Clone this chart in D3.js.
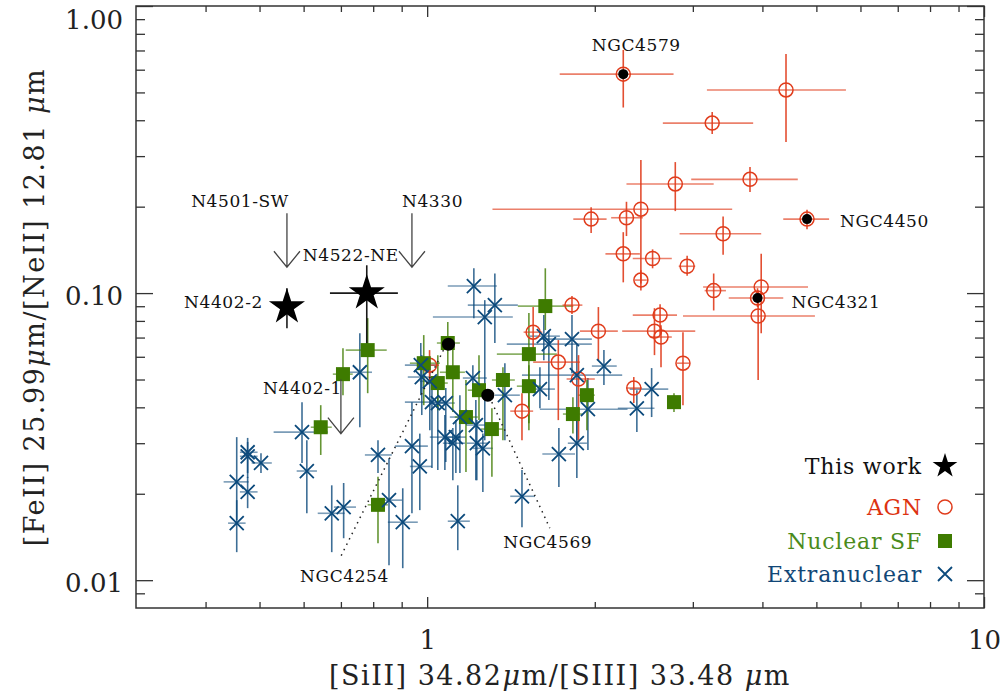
<!DOCTYPE html>
<html>
<head>
<meta charset="utf-8">
<title>[FeII]/[NeII] vs [SiII]/[SIII]</title>
<script src="https://d3js.org/d3.v7.min.js"></script>
<style>
  body { margin: 0; background: #fff; }
  svg { display: block; font-family: "DejaVu Serif", serif; }
  .lbl { font-size: 17px; fill: #111; letter-spacing: 0.6px; }
  .tick text { font-size: 26px; fill: #222; font-family: "DejaVu Serif", serif; }
  .tick line { stroke: #333; stroke-width: 1.3; }
</style>
</head>
<body>
<div id="chart"></div>
<script>

// ---------------- data (x = [SiII]/[SIII], y = [FeII]/[NeII]) ----------------
// each row: [x, y, xlo, xhi, ylo, yhi]
const agn = [
  [4.41, 0.510, 3.18, 5.65, 0.336, 0.680],
  [3.25, 0.391, 2.65, 3.85, 0.358, 0.427],
  [2.79, 0.240, 2.28, 3.27, 0.193, 0.286],
  [3.80, 0.249, 2.98, 4.63, 0.225, 0.275],
  [2.42, 0.196, 1.31, 3.53, 0.108, 0.291],
  [1.97, 0.181, 1.83, 2.10, 0.162, 0.199],
  [2.28, 0.183, 2.14, 2.44, 0.158, 0.208],
  [3.40, 0.161, 2.84, 3.98, 0.136, 0.185],
  [2.25, 0.137, 2.09, 2.41, 0.109, 0.163],
  [2.54, 0.132, 2.34, 2.75, 0.122, 0.142],
  [2.93, 0.124, 2.83, 3.03, 0.115, 0.135],
  [2.42, 0.111, 2.36, 2.48, 0.102, 0.120],
  [3.27, 0.102, 3.15, 3.44, 0.087, 0.117],
  [3.98, 0.105, 3.13, 4.83, 0.0725, 0.137],
  [3.93, 0.0832, 2.88, 4.97, 0.0498, 0.102],
  [2.62, 0.0838, 2.34, 2.81, 0.0714, 0.0915],
  [2.56, 0.0737, 2.24, 3.03, 0.0608, 0.0886],
  [2.63, 0.0703, 2.51, 2.75, 0.0552, 0.0773],
  [2.88, 0.0570, 2.81, 2.96, 0.0407, 0.0731],
  [1.82, 0.0908, 1.75, 1.90, 0.0845, 0.0976],
  [2.03, 0.0737, 1.88, 2.20, 0.0584, 0.0894],
  [1.72, 0.0575, 1.55, 1.88, 0.0361, 0.0686],
  [1.87, 0.0502, 1.78, 2.00, 0.0307, 0.0608],
  [2.35, 0.0467, 2.28, 2.43, 0.0414, 0.0510],
  [1.48, 0.0388, 1.41, 1.55, 0.0307, 0.0448],
  [1.01, 0.0561, 0.970, 1.05, 0.0498, 0.0633],
  [1.55, 0.0731, 1.49, 1.61, 0.0584, 0.0894]
];

const agnNamed = ["NGC4579", "NGC4450", "NGC4321"];
const agnNamedValues = [
  [2.25, 0.579, 1.73, 2.77, 0.443, 0.703],
  [4.81, 0.181, 4.36, 5.27, 0.167, 0.195],
  [3.92, 0.0961, 3.48, 4.36, 0.0894, 0.104]
];

const nuclearSF = [
  [1.63, 0.0901, 1.455, 1.83, 0.0743, 0.122],
  [0.782, 0.0633, 0.714, 0.846, 0.0448, 0.0818],
  [0.706, 0.0522, 0.677, 0.735, 0.0441, 0.0643],
  [0.644, 0.0341, 0.618, 0.674, 0.0273, 0.0407],
  [0.816, 0.0183, 0.782, 0.850, 0.01345, 0.0229],
  [0.986, 0.0570, 0.931, 1.054, 0.0407, 0.0714],
  [1.045, 0.0486, 1.003, 1.089, 0.0391, 0.0608],
  [1.112, 0.0530, 1.054, 1.169, 0.0385, 0.0633],
  [1.174, 0.0370, 1.121, 1.233, 0.0238, 0.0498],
  [1.239, 0.0459, 1.183, 1.296, 0.0361, 0.0608],
  [1.307, 0.0336, 1.249, 1.368, 0.0229, 0.0397],
  [1.368, 0.0498, 1.307, 1.437, 0.0307, 0.0552],
  [1.523, 0.0613, 1.334, 1.710, 0.0352, 0.0852],
  [1.523, 0.0474, 1.449, 1.600, 0.0333, 0.0561],
  [1.936, 0.0441, 1.865, 2.00, 0.0333, 0.0498],
  [1.827, 0.0379, 1.753, 1.90, 0.0324, 0.0434],
  [2.775, 0.0417, 2.71, 2.84, 0.0385, 0.0448],
  [1.089, 0.0670, 1.041, 1.145, 0.0539, 0.0793]
];

const extranuclear = [
  [1.213, 0.1058, 1.089, 1.334, 0.0818, 0.122],
  [1.323, 0.0908, 1.183, 1.455, 0.0670, 0.117],
  [1.269, 0.0825, 1.024, 1.425, 0.0307, 0.0945],
  [1.620, 0.0708, 1.529, 1.731, 0.0584, 0.0838],
  [1.654, 0.0664, 1.390, 1.976, 0.0424, 0.0743],
  [1.82, 0.0691, 1.594, 1.976, 0.0526, 0.0838],
  [2.077, 0.0557, 1.976, 2.19, 0.0478, 0.0633],
  [1.857, 0.0518, 1.48, 2.24, 0.0307, 0.0659],
  [1.594, 0.0463, 1.516, 1.696, 0.0397, 0.0552],
  [1.379, 0.0441, 1.323, 1.467, 0.0307, 0.0570],
  [1.944, 0.0394, 1.594, 2.29, 0.0284, 0.0506],
  [2.38, 0.0397, 2.20, 2.56, 0.0328, 0.0459],
  [2.53, 0.0463, 2.31, 2.71, 0.0370, 0.0548],
  [1.857, 0.0300, 1.789, 1.936, 0.0227, 0.0370],
  [1.724, 0.0275, 1.61, 1.843, 0.0211, 0.0339],
  [1.48, 0.0196, 1.41, 1.562, 0.0153, 0.0242],
  [1.208, 0.0506, 1.159, 1.280, 0.0441, 0.0561],
  [0.974, 0.0561, 0.912, 1.045, 0.0441, 0.0670],
  [0.978, 0.0510, 0.923, 1.041, 0.0376, 0.0608],
  [1.011, 0.0493, 0.970, 1.063, 0.0333, 0.0584],
  [1.020, 0.0417, 0.912, 1.076, 0.0246, 0.0498],
  [1.045, 0.0414, 1.011, 1.080, 0.0242, 0.0478],
  [1.080, 0.0414, 1.045, 1.121, 0.0258, 0.0467],
  [1.145, 0.0370, 1.098, 1.193, 0.0236, 0.0441],
  [1.223, 0.0347, 1.174, 1.275, 0.0223, 0.0424],
  [1.076, 0.0315, 1.011, 1.145, 0.0242, 0.0376],
  [1.126, 0.0315, 1.089, 1.174, 0.0236, 0.0361],
  [1.112, 0.0300, 1.067, 1.169, 0.0223, 0.0339],
  [1.228, 0.0300, 1.178, 1.285, 0.0223, 0.0361],
  [1.259, 0.0288, 1.208, 1.312, 0.0203, 0.0324],
  [1.135, 0.01605, 1.089, 1.193, 0.01272, 0.0214],
  [0.939, 0.0293, 0.875, 1.003, 0.0171, 0.0417],
  [0.970, 0.0249, 0.931, 1.020, 0.01754, 0.0324],
  [0.854, 0.0190, 0.809, 0.901, 0.01128, 0.0266],
  [0.904, 0.01592, 0.850, 0.962, 0.01101, 0.0209],
  [0.757, 0.0530, 0.711, 0.796, 0.0341, 0.0725],
  [0.816, 0.0273, 0.773, 0.864, 0.0236, 0.0307],
  [0.708, 0.01797, 0.680, 0.745, 0.0140, 0.0218],
  [0.674, 0.0171, 0.636, 0.711, 0.01252, 0.0214],
  [0.608, 0.0240, 0.583, 0.634, 0.0171, 0.0307],
  [0.596, 0.0328, 0.530, 0.663, 0.0256, 0.0417],
  [0.503, 0.0256, 0.484, 0.526, 0.0236, 0.0277],
  [0.476, 0.0279, 0.461, 0.496, 0.0236, 0.0313],
  [0.476, 0.0270, 0.461, 0.496, 0.0227, 0.0303],
  [0.476, 0.0203, 0.461, 0.496, 0.01782, 0.0229],
  [0.455, 0.0220, 0.431, 0.478, 0.01619, 0.0315],
  [0.455, 0.0158, 0.439, 0.472, 0.01252, 0.0190]
];

// this work: detections and upper limits
const thisWorkNames = ["N4402-2", "N4522-NE"];
const thisWorkValues = [
  [0.560, 0.0894, 0.560, 0.560, 0.0754, 0.104],
  [0.779, 0.100, 0.669, 0.886, 0.0659, 0.125]
];
const limitNames = ["N4501-SW", "N4330", "N4402-1"];
const limitValues = [[0.560, 0.123], [0.939, 0.123], [0.700, 0.0324]];

// marked nuclei with dotted leaders
const markedNames = ["NGC4254", "NGC4569"];
const markedValues = [[1.092, 0.0664], [1.285, 0.0441]];

// axes
const xMajor = [1, 10];
const xMinor = [0.4, 0.5, 0.6, 0.7, 0.8, 0.9, 2, 3, 4, 5, 6, 7, 8, 9];
const yMajor = [0.01, 0.1, 1];
const yMinor = [0.009, 0.02, 0.03, 0.04, 0.05, 0.06, 0.07, 0.08, 0.09,
                0.2, 0.3, 0.4, 0.5, 0.6, 0.7, 0.8, 0.9];

const legendItems = ["This work", "AGN", "Nuclear SF", "Extranuclear"];

// ---------------- layout ----------------
const W = 1007, H = 700;
const L = 136, R = 984, T = 6, B = 608;

const red = "#e03c1c", green = "#3e7b00", blue = "#0c4a7c";

const rec = a => ({x: a[0], y: a[1], xlo: a[2], xhi: a[3], ylo: a[4], yhi: a[5]});

const x = d3.scaleLog().domain([0.3, 10]).range([L, R]);
const y = d3.scaleLog().domain([0.008, 1]).range([B, T]);

const svg = d3.select("#chart").append("svg")
  .attr("width", W).attr("height", H);

// ---- axes (ticks point inward on all four sides)
function addAxis(axis, tr, labels) {
  const g = svg.append("g").attr("transform", tr).call(axis);
  g.select(".domain").remove();
  if (!labels) g.selectAll("text").remove();
  return g;
}
addAxis(d3.axisBottom(x).tickValues(xMinor).tickSize(-6).tickFormat(""), `translate(0,${B})`, false);
const xg = addAxis(d3.axisBottom(x).tickValues(xMajor).tickSize(-11).tickPadding(23)
  .tickFormat(d3.format("d")), `translate(0,${B})`, true);
addAxis(d3.axisTop(x).tickValues(xMinor).tickSize(-6).tickFormat(""), `translate(0,${T})`, false);
addAxis(d3.axisTop(x).tickValues(xMajor).tickSize(-11).tickFormat(""), `translate(0,${T})`, false);

addAxis(d3.axisLeft(y).tickValues(yMinor).tickSize(-9).tickFormat(""), `translate(${L},0)`, false);
const yg = addAxis(d3.axisLeft(y).tickValues(yMajor).tickSize(-17).tickPadding(13)
  .tickFormat(d3.format(".2f")), `translate(${L},0)`, true);
addAxis(d3.axisRight(y).tickValues(yMinor).tickSize(-9).tickFormat(""), `translate(${R},0)`, false);
addAxis(d3.axisRight(y).tickValues(yMajor).tickSize(-17).tickFormat(""), `translate(${R},0)`, false);

yg.selectAll("text").attr("dy", d => d === 1 ? "0.85em" : "0.42em");

svg.append("rect").attr("x", L).attr("y", T).attr("width", R - L).attr("height", B - T)
  .attr("fill", "none").attr("stroke", "#333").attr("stroke-width", 1.5);

// ---- axis titles
const xt = svg.append("text").attr("x", (L + R) / 2).attr("y", 685)
  .attr("text-anchor", "middle").attr("font-size", 27).attr("fill", "#222")
  .attr("letter-spacing", 1.5);
xt.append("tspan").text("[SiII] 34.82");
xt.append("tspan").attr("font-style", "italic").text("μ");
xt.append("tspan").text("m/[SIII] 33.48 ");
xt.append("tspan").attr("font-style", "italic").text("μ");
xt.append("tspan").text("m");

const yt = svg.append("text").attr("transform", `translate(44,${(T + B) / 2}) rotate(-90)`)
  .attr("text-anchor", "middle").attr("font-size", 27).attr("fill", "#222")
  .attr("letter-spacing", 1.5);
yt.append("tspan").text("[FeII] 25.99");
yt.append("tspan").attr("font-style", "italic").text("μ");
yt.append("tspan").text("m/[NeII] 12.81 ");
yt.append("tspan").attr("font-style", "italic").text("μ");
yt.append("tspan").text("m");

// ---- error bars
const plot = svg.append("g");
function errorBars(data, color, hOp, vOp) {
  const g = plot.append("g").attr("stroke", color).attr("stroke-width", 1.6);
  g.selectAll(null).data(data.filter(d => d.xhi > d.xlo)).join("line")
    .attr("x1", d => x(d.xlo)).attr("x2", d => x(d.xhi))
    .attr("y1", d => y(d.y)).attr("y2", d => y(d.y))
    .attr("stroke-opacity", hOp);
  g.selectAll(null).data(data.filter(d => d.yhi > d.ylo)).join("line")
    .attr("x1", d => x(d.x)).attr("x2", d => x(d.x))
    .attr("y1", d => y(d.ylo)).attr("y2", d => y(d.yhi))
    .attr("stroke-opacity", vOp);
}

const agnData = agn.map(rec);
const agnNamedData = agnNamedValues.map((a, i) => Object.assign(rec(a), {name: agnNamed[i]}));
const sfData = nuclearSF.map(rec);
const exData = extranuclear.map(rec);
const twData = thisWorkValues.map((a, i) => Object.assign(rec(a), {name: thisWorkNames[i]}));

errorBars(exData, blue, 0.55, 0.8);
errorBars(sfData, green, 0.6, 0.8);
errorBars(agnData.concat(agnNamedData), red, 0.65, 0.9);
errorBars(twData, "#000", 0.9, 0.9);

// ---- markers
const crossPath = "M-7,-7L7,7M-7,7L7,-7";

plot.append("g").selectAll(null).data(agnData).join("circle")
  .attr("cx", d => x(d.x)).attr("cy", d => y(d.y)).attr("r", 7)
  .attr("fill", "none").attr("stroke", red).attr("stroke-width", 1.5);

plot.append("g").selectAll(null).data(sfData).join("rect")
  .attr("x", d => x(d.x) - 7).attr("y", d => y(d.y) - 7)
  .attr("width", 14).attr("height", 14).attr("fill", green);

plot.append("g").selectAll(null).data(exData).join("path")
  .attr("transform", d => `translate(${x(d.x)},${y(d.y)})`)
  .attr("d", crossPath).attr("fill", "none").attr("stroke", blue).attr("stroke-width", 1.8);

const named = plot.append("g").selectAll(null).data(agnNamedData).join("g")
  .attr("transform", d => `translate(${x(d.x)},${y(d.y)})`);
named.append("circle").attr("r", 7).attr("fill", "none").attr("stroke", red).attr("stroke-width", 1.5);
named.append("circle").attr("r", 5).attr("fill", "#000");

// label offsets (px) relative to the marker
const namedLayout = {
  "NGC4579": {dx: 13, dy: -23, anchor: "middle"},
  "NGC4450": {dx: 33, dy: 8, anchor: "start"},
  "NGC4321": {dx: 34, dy: 10, anchor: "start"}
};
named.append("text").attr("class", "lbl")
  .attr("x", d => namedLayout[d.name].dx).attr("y", d => namedLayout[d.name].dy)
  .attr("text-anchor", d => namedLayout[d.name].anchor).text(d => d.name);

// marked nuclei with dotted leader lines
const markedData = markedValues.map((a, i) => ({x: a[0], y: a[1], name: markedNames[i]}));
const leaderLayout = {
  "NGC4254": {x1: -5, y1: 6, x2: -108, y2: 213, tx: -104, ty: 238},
  "NGC4569": {x1: 4, y1: 7, x2: 62, y2: 133, tx: 60, ty: 153}
};
const mk = plot.append("g").selectAll(null).data(markedData).join("g")
  .attr("transform", d => `translate(${x(d.x)},${y(d.y)})`);
mk.append("line")
  .attr("x1", d => leaderLayout[d.name].x1).attr("y1", d => leaderLayout[d.name].y1)
  .attr("x2", d => leaderLayout[d.name].x2).attr("y2", d => leaderLayout[d.name].y2)
  .attr("stroke", "#222").attr("stroke-width", 1.5).attr("stroke-dasharray", "1.5,4.5");
mk.append("circle").attr("r", 6.5).attr("fill", "#000");
mk.append("text").attr("class", "lbl").attr("text-anchor", "middle")
  .attr("x", d => leaderLayout[d.name].tx).attr("y", d => leaderLayout[d.name].ty)
  .text(d => d.name);

// this work: stars
const star = d3.symbol(d3.symbolStar, 405);
const tw = plot.append("g").selectAll(null).data(twData).join("g")
  .attr("transform", d => `translate(${x(d.x)},${y(d.y)})`);
tw.append("path").attr("d", star).attr("fill", "#000");
const twLayout = {
  "N4402-2": {dx: -24, dy: 1, anchor: "end"},
  "N4522-NE": {dx: -64, dy: -32, anchor: "start"}
};
tw.append("text").attr("class", "lbl")
  .attr("x", d => twLayout[d.name].dx).attr("y", d => twLayout[d.name].dy)
  .attr("text-anchor", d => twLayout[d.name].anchor).text(d => d.name);

// upper limits: arrows pointing down to the limit
const limData = limitValues.map((a, i) => ({x: a[0], y: a[1], name: limitNames[i]}));
const limLayout = {
  "N4501-SW": {dx: 2, dy: -60, anchor: "end"},
  "N4330": {dx: -10, dy: -60, anchor: "start"},
  "N4402-1": {dx: 1, dy: -40, anchor: "end"}
};
const lim = plot.append("g").selectAll(null).data(limData).join("g")
  .attr("transform", d => `translate(${x(d.x)},${y(d.y)})`);
lim.append("path").attr("d", "M0,-54L0,0M-13,-16L0,0L13,-16")
  .attr("fill", "none").attr("stroke", "#444").attr("stroke-width", 1.3);
lim.append("text").attr("class", "lbl")
  .attr("x", d => limLayout[d.name].dx).attr("y", d => limLayout[d.name].dy)
  .attr("text-anchor", d => limLayout[d.name].anchor).text(d => d.name);

// ---- legend
const legendColors = ["#111", "#dd3311", "#4b8b1b", "#114777"];
const legendY = [466, 507, 541, 574];
const lg = svg.append("g");
legendItems.forEach((name, i) => {
  lg.append("text").attr("x", 922).attr("y", legendY[i] + 8)
    .attr("text-anchor", "end").attr("font-size", 22).attr("fill", legendColors[i])
    .attr("letter-spacing", 0.8).text(name);
  const s = lg.append("g").attr("transform", `translate(945,${legendY[i]})`);
  if (i === 0) s.append("path").attr("d", d3.symbol(d3.symbolStar, 190)).attr("fill", "#000");
  if (i === 1) s.append("circle").attr("r", 7).attr("fill", "none").attr("stroke", red).attr("stroke-width", 1.5);
  if (i === 2) s.append("rect").attr("x", -7).attr("y", -7).attr("width", 14).attr("height", 14).attr("fill", green);
  if (i === 3) s.append("path").attr("d", crossPath).attr("fill", "none").attr("stroke", blue).attr("stroke-width", 1.8);
});
</script>
</body>
</html>
